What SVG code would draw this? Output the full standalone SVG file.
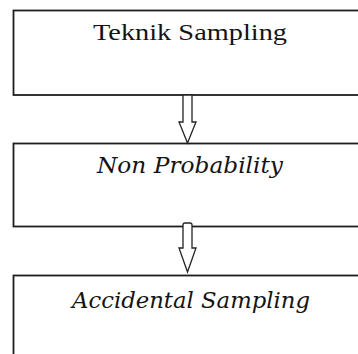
<svg xmlns="http://www.w3.org/2000/svg" width="358" height="354" viewBox="0 0 358 354">
<style>
.box{fill:#fff;stroke:#1e1e1e;stroke-width:1.8}
.arr{fill:#fff;stroke:#222;stroke-width:1.3;stroke-linejoin:miter}
.t{font-family:"DejaVu Serif","Liberation Serif",serif;fill:#141414;text-anchor:middle}
.r{font-family:"Liberation Serif","DejaVu Serif",serif}
.i{font-style:italic}
</style>
<rect width="358" height="354" fill="#fff"/>
<g id="node-teknik">
<rect class="box" x="13.5" y="10.5" width="360" height="84.5"/>
<text class="t r" x="190" y="40" font-size="24" textLength="194" lengthAdjust="spacingAndGlyphs">Teknik Sampling</text>
</g>
<g id="node-nonprob">
<rect class="box" x="13.5" y="143.5" width="360" height="83"/>
<text class="t i" x="190" y="173" font-size="23" textLength="186" lengthAdjust="spacingAndGlyphs">Non Probability</text>
</g>
<g id="node-accidental">
<rect class="box" x="13.5" y="275.5" width="360" height="100"/>
<text class="t i" x="191" y="307.5" font-size="23" textLength="238" lengthAdjust="spacingAndGlyphs">Accidental Sampling</text>
</g>
<g id="connectors">
<polygon class="arr" points="183,95 192,95 192,122 196,122 187.5,143 179,122 183,122"/>
<path class="arr" d="M183,248 L183,225 Q183,223 185,223 L190,223 Q192,223 192,225 L192,248 L196,248 L187.5,272 L179,248 Z"/>
</g>
</svg>
